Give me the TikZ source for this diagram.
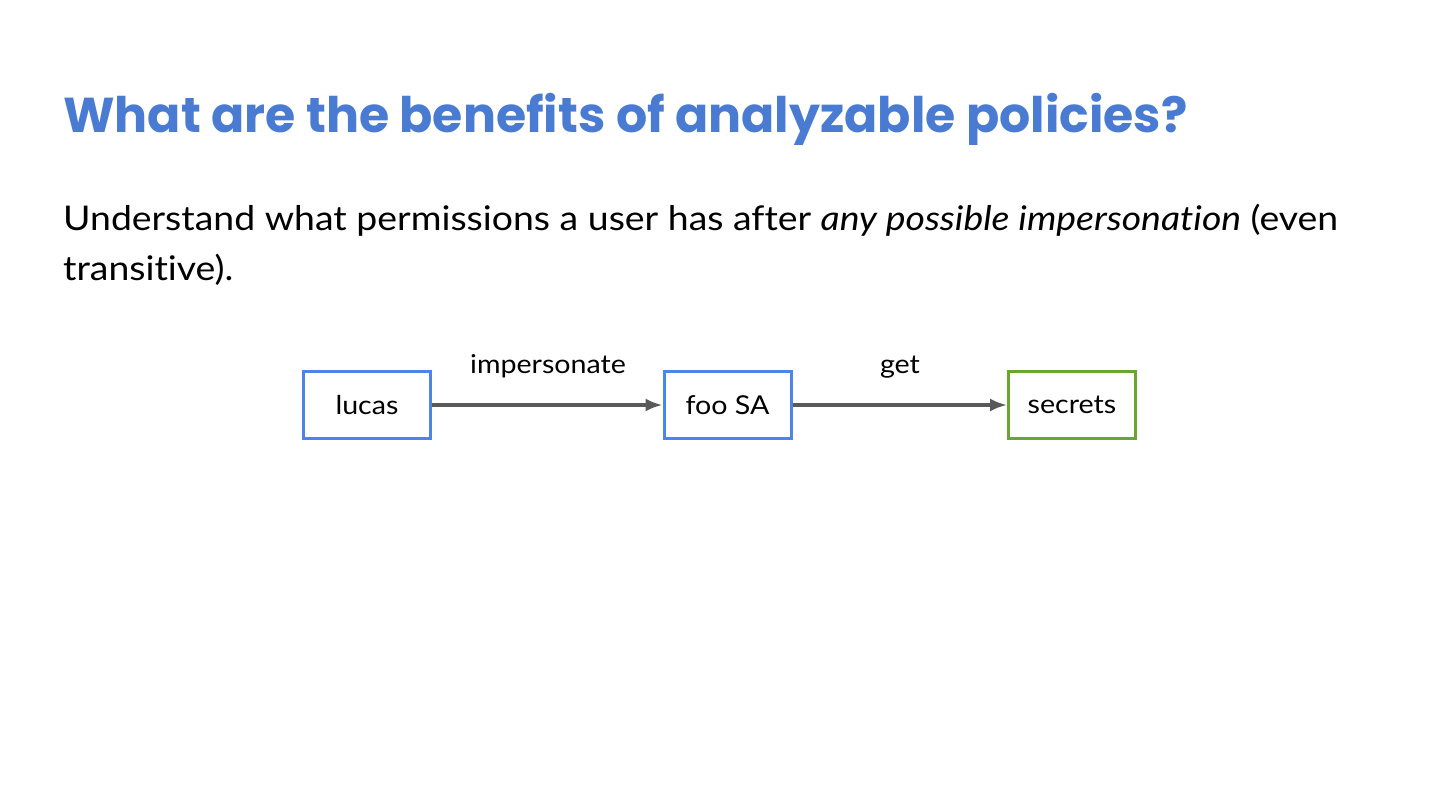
\documentclass[tikz,border=0pt]{standalone}
\usepackage{fontspec}
\setmainfont{Lato}[FakeStretch=1.1,Ligatures={NoCommon,NoDiscretionary}]
\newfontfamily\titlefont{Poppins}
\usetikzlibrary{arrows.meta}
\definecolor{titleblue}{HTML}{4A7BD3}
\definecolor{boxblue}{HTML}{4A86E8}
\definecolor{boxgreen}{HTML}{6AA431}
\definecolor{arrowgray}{HTML}{595959}
\begin{document}
\begin{tikzpicture}[x=1pt,y=-1pt,
  entity/.style={draw=boxblue,line width=3pt,minimum width=127pt,minimum height=67pt,inner sep=0pt,font=\fontsize{26}{30}\selectfont,text=black},
  target/.style={entity,draw=boxgreen},
  link/.style={draw=arrowgray,line width=3.2pt,-{Latex[length=17pt,width=13pt]}},
  lbl/.style={font=\fontsize{26}{30}\selectfont,text=black,inner sep=0pt}]
\useasboundingbox (0,0) rectangle (1440,810);
\node[anchor=base west,inner sep=0pt,text=titleblue,font=\titlefont\bfseries\fontsize{49}{56}\selectfont] (title) at (63,133) {What are the benefits of analyzable policies?};
\node[anchor=base west,inner sep=0pt,font=\fontsize{34}{48}\selectfont] (body) at (63,231) {Understand what permissions a user has after \textit{any possible impersonation} (even};
\node[anchor=base west,inner sep=0pt,font=\fontsize{34}{48}\selectfont] (body2) at (63,280) {transitive).};
\node[entity] (lucas) at (367,405) {lucas};
\node[entity] (foo) at (727.5,405) {foo SA};
\node[target] (secrets) at (1072,405) {secrets};
\draw[link] (lucas) -- (foo);
\draw[link] (foo) -- (secrets);
\node[lbl,anchor=base] (l1) at (548,373) {impersonate};
\node[lbl,anchor=base] (l2) at (900,373) {get};
\end{tikzpicture}
\end{document}
